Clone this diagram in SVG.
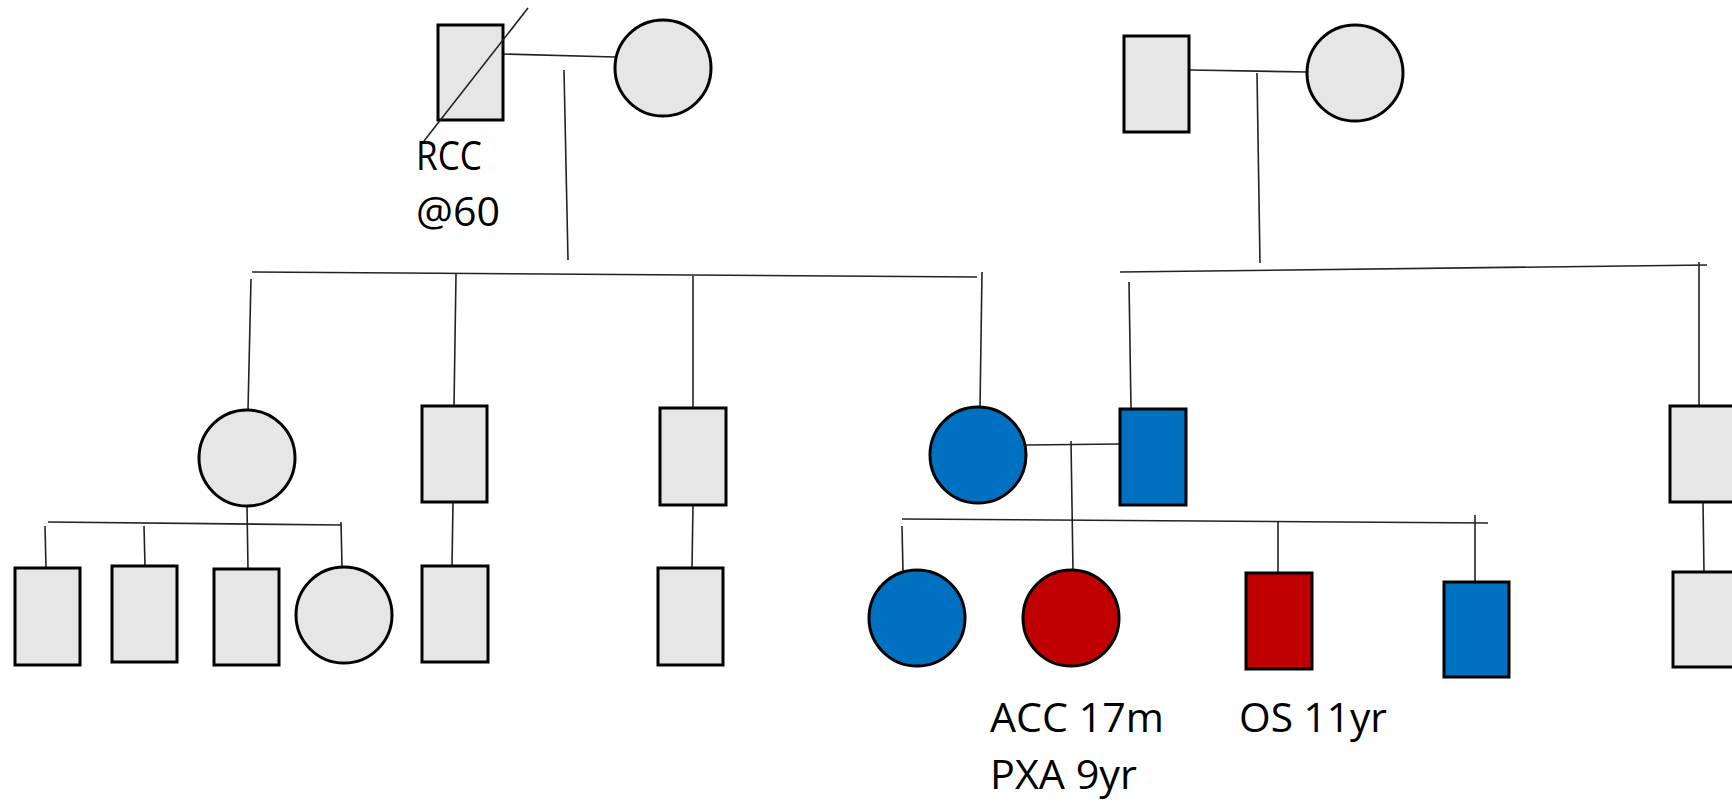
<svg xmlns="http://www.w3.org/2000/svg" width="1732" height="804" viewBox="0 0 1732 804">
  <style>
    .node { stroke: #000; stroke-width: 3; }
    .unaff { fill: #e6e6e6; }
    .blue { fill: #0070c0; }
    .red { fill: #c00000; }
    .link { stroke: #222; stroke-width: 1.6; fill: none; }
    .lbl { font-family: "Open Sans", "Noto Sans", sans-serif; font-size: 40px; fill: #000; }
  </style>
  <rect width="1732" height="804" fill="#fff"/>

  <!-- connectors: marriage, descent and sibship lines -->
  <g id="connectors">
    <!-- left grandparents -->
    <line class="link" x1="503" y1="54" x2="615" y2="57"/>
    <line class="link" x1="564" y1="70" x2="568" y2="260"/>
    <line class="link" x1="252" y1="272" x2="977" y2="277"/>
    <line class="link" x1="251" y1="279" x2="248" y2="410"/>
    <line class="link" x1="456" y1="274" x2="454" y2="406"/>
    <line class="link" x1="693" y1="276" x2="693" y2="408"/>
    <line class="link" x1="982" y1="272" x2="980" y2="407"/>
    <!-- right grandparents -->
    <line class="link" x1="1190" y1="70" x2="1308" y2="72"/>
    <line class="link" x1="1257" y1="73" x2="1260" y2="263"/>
    <line class="link" x1="1120" y1="272" x2="1707" y2="265"/>
    <line class="link" x1="1129" y1="282" x2="1131" y2="409"/>
    <line class="link" x1="1699" y1="262" x2="1699" y2="406"/>
    <!-- left daughter's children -->
    <line class="link" x1="48" y1="522" x2="341" y2="525"/>
    <line class="link" x1="45" y1="526" x2="46" y2="568"/>
    <line class="link" x1="144" y1="526" x2="145" y2="566"/>
    <line class="link" x1="247" y1="506" x2="248" y2="569"/>
    <line class="link" x1="341" y1="522" x2="342" y2="567"/>
    <!-- sons' children -->
    <line class="link" x1="453" y1="502" x2="452" y2="566"/>
    <line class="link" x1="693" y1="505" x2="692" y2="568"/>
    <!-- affected couple and their children -->
    <line class="link" x1="1026" y1="445" x2="1120" y2="444"/>
    <line class="link" x1="1071" y1="441" x2="1073" y2="570"/>
    <line class="link" x1="902" y1="519" x2="1488" y2="523"/>
    <line class="link" x1="902" y1="526" x2="903" y2="572"/>
    <line class="link" x1="1278" y1="522" x2="1278" y2="573"/>
    <line class="link" x1="1475" y1="515" x2="1475" y2="582"/>
    <!-- right son's child -->
    <line class="link" x1="1703" y1="502" x2="1704" y2="572"/>
  </g>

  <!-- generation I -->
  <g id="gf-left">
    <rect class="node unaff" x="438" y="25" width="65" height="95"/>
    <!-- deceased mark -->
    <line class="link" x1="528" y1="8" x2="424" y2="141"/>
  </g>
  <g id="gm-left"><circle class="node unaff" cx="663" cy="68" r="48"/></g>
  <g id="gf-right"><rect class="node unaff" x="1124" y="36" width="65" height="96"/></g>
  <g id="gm-right"><circle class="node unaff" cx="1355" cy="73" r="48"/></g>

  <!-- generation II -->
  <g id="aunt"><circle class="node unaff" cx="247" cy="458" r="48"/></g>
  <g id="uncle-1"><rect class="node unaff" x="422" y="406" width="65" height="96"/></g>
  <g id="uncle-2"><rect class="node unaff" x="660" y="408" width="66" height="97"/></g>
  <g id="mother"><circle class="node blue" cx="978" cy="455" r="48"/></g>
  <g id="father"><rect class="node blue" x="1120" y="409" width="66" height="96"/></g>
  <g id="uncle-3"><rect class="node unaff" x="1670" y="406" width="65" height="96"/></g>

  <!-- generation III -->
  <g id="cousin-1"><rect class="node unaff" x="15" y="568" width="65" height="97"/></g>
  <g id="cousin-2"><rect class="node unaff" x="112" y="566" width="65" height="96"/></g>
  <g id="cousin-3"><rect class="node unaff" x="214" y="569" width="65" height="96"/></g>
  <g id="cousin-4"><circle class="node unaff" cx="344" cy="615" r="48"/></g>
  <g id="cousin-5"><rect class="node unaff" x="422" y="566" width="66" height="96"/></g>
  <g id="cousin-6"><rect class="node unaff" x="658" y="568" width="65" height="97"/></g>
  <g id="sib-1"><circle class="node blue" cx="917" cy="618" r="48"/></g>
  <g id="proband"><circle class="node red" cx="1071" cy="618" r="48"/></g>
  <g id="sib-2"><rect class="node red" x="1246" y="573" width="66" height="96"/></g>
  <g id="sib-3"><rect class="node blue" x="1444" y="582" width="65" height="95"/></g>
  <g id="cousin-7"><rect class="node unaff" x="1673" y="572" width="65" height="95"/></g>

  <!-- labels -->
  <g id="labels">
    <text class="lbl" x="416" y="170" textLength="66" lengthAdjust="spacingAndGlyphs">RCC</text>
    <text class="lbl" x="416" y="226" textLength="84" lengthAdjust="spacingAndGlyphs">@60</text>
    <text class="lbl" x="990" y="732" textLength="174" lengthAdjust="spacingAndGlyphs">ACC 17m</text>
    <text class="lbl" x="990" y="789" textLength="147" lengthAdjust="spacingAndGlyphs">PXA 9yr</text>
    <text class="lbl" x="1239" y="732" textLength="148" lengthAdjust="spacingAndGlyphs">OS 11yr</text>
  </g>
</svg>
